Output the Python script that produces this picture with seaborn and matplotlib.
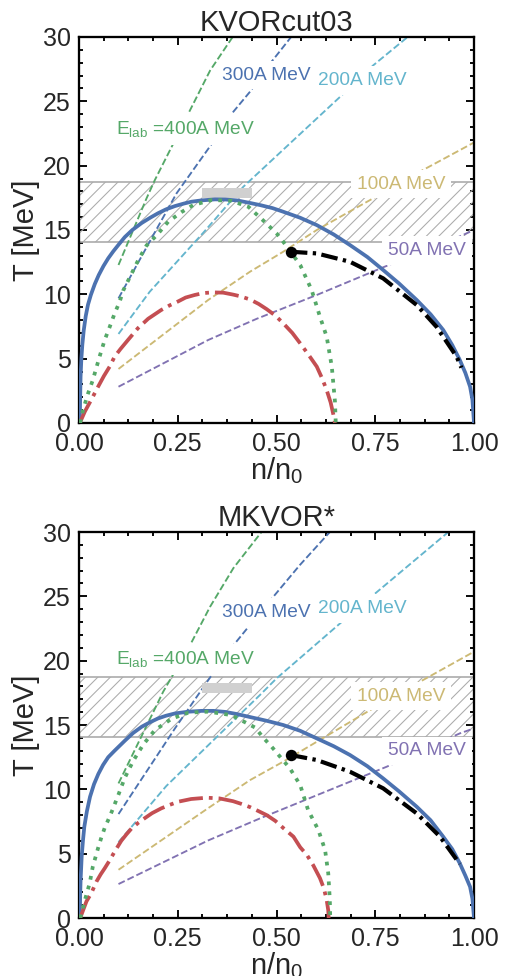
import numpy as np
import pandas as pd
import matplotlib
matplotlib.use("Agg")
import matplotlib.pyplot as plt
import seaborn as sns
from matplotlib.ticker import AutoMinorLocator, FormatStrFormatter

# ---------------- data ----------------
panel_titles = ["KVORcut03", "MKVOR*"]

# solid blue curve
blue_n_top = [0.002, 0.003, 0.004, 0.006, 0.0085, 0.012, 0.017, 0.0228, 0.03, 0.04, 0.05, 0.062, 0.074,
              0.087, 0.1, 0.116, 0.135, 0.159, 0.18, 0.2, 0.22, 0.243, 0.265, 0.285, 0.31, 0.344,
              0.37, 0.40, 0.43, 0.458, 0.49, 0.517, 0.56, 0.602, 0.645, 0.686, 0.73, 0.77, 0.81,
              0.855, 0.89, 0.922, 0.945, 0.964, 0.978, 0.99, 0.996, 1.0]
blue_T_top = [0.0, 2.0, 3.6, 5.0, 6.1, 7.2, 8.3, 9.2, 9.95, 10.8, 11.5, 12.2, 12.8,
              13.35, 13.85, 14.45, 15.0, 15.55, 15.95, 16.3, 16.6, 16.86, 17.05, 17.2, 17.3, 17.38,
              17.37, 17.3, 17.12, 16.94, 16.7, 16.42, 15.95, 15.38, 14.65, 13.83, 12.9, 11.89, 10.85,
              9.56, 8.45, 7.23, 6.05, 4.9, 3.9, 2.82, 1.8, 0.0]
blue_n_bot = [0.002, 0.003, 0.004, 0.0068, 0.01, 0.0135, 0.02, 0.028, 0.038, 0.049, 0.061, 0.074,
              0.09, 0.1, 0.116, 0.137, 0.159, 0.18, 0.2, 0.22, 0.243, 0.275, 0.31, 0.34, 0.37, 0.40,
              0.433, 0.475, 0.517, 0.56, 0.602, 0.645, 0.686, 0.73, 0.77, 0.81, 0.855, 0.89, 0.922,
              0.945, 0.964, 0.978, 0.99, 0.996, 1.0]
blue_T_bot = [0.0, 1.8, 2.9, 4.77, 6.0, 7.1, 8.3, 9.43, 10.4, 11.2, 11.9, 12.5,
              13.0, 13.3, 13.78, 14.38, 14.87, 15.22, 15.51, 15.72, 15.9, 16.03, 16.1, 16.1, 16.02, 15.85,
              15.62, 15.33, 15.0, 14.55, 13.96, 13.35, 12.67, 11.8, 10.85, 9.85, 8.65, 7.6, 6.32,
              5.35, 4.25, 3.3, 2.43, 1.5, 0.0]

# red dash-dot curve
red_n_top = [0.002, 0.015, 0.031, 0.048, 0.063, 0.078, 0.09, 0.105, 0.124, 0.149, 0.175, 0.208, 0.23,
             0.251, 0.27, 0.293, 0.315, 0.34, 0.365, 0.39, 0.408, 0.433, 0.455, 0.475, 0.497, 0.517,
             0.54, 0.56, 0.58, 0.602, 0.615, 0.627, 0.637, 0.644, 0.648]
red_T_top = [0.0, 0.9, 1.8, 2.8, 3.65, 4.4, 5.15, 5.75, 6.45, 7.36, 8.1, 8.78, 9.15,
             9.45, 9.75, 9.95, 10.1, 10.15, 10.13, 9.98, 9.85, 9.6, 9.25, 8.85, 8.35, 7.75,
             7.0, 6.19, 5.35, 4.38, 3.5, 2.56, 1.6, 0.65, 0.0]
red_n_bot = [0.003, 0.019, 0.031, 0.044, 0.055, 0.065, 0.078, 0.09, 0.107, 0.12, 0.133, 0.15, 0.166,
             0.185, 0.208, 0.23, 0.251, 0.284, 0.323, 0.355, 0.39, 0.41, 0.433, 0.455, 0.475, 0.497,
             0.517, 0.543, 0.56, 0.577, 0.593, 0.61, 0.62, 0.627, 0.631, 0.632]
red_T_bot = [0.0, 1.3, 1.92, 2.82, 3.4, 3.86, 4.5, 5.15, 6.0, 6.5, 6.96, 7.4, 7.75,
             8.15, 8.52, 8.8, 9.04, 9.25, 9.35, 9.3, 9.08, 8.88, 8.62, 8.3, 8.0, 7.55,
             7.0, 6.32, 5.5, 4.9, 4.1, 3.1, 2.3, 1.4, 0.6, 0.0]

# green dotted curve
green_n_top = [0.003, 0.01, 0.023, 0.035, 0.052, 0.065, 0.078, 0.09, 0.103, 0.112, 0.133, 0.15, 0.171,
               0.197, 0.226, 0.26, 0.289, 0.336, 0.386, 0.429, 0.467, 0.5, 0.517, 0.56, 0.589, 0.61,
               0.627, 0.64, 0.648, 0.65]
green_T_top = [0.0, 1.0, 2.3, 3.34, 5.15, 6.45, 7.49, 8.5, 9.43, 10.3, 11.6, 12.66, 13.8,
               14.6, 15.65, 16.4, 16.94, 17.33, 17.27, 16.8, 15.72, 14.74, 14.09, 12.28, 10.33, 8.26,
               6.71, 4.38, 1.66, 0.0]
green_n_bot = [0.003, 0.008, 0.014, 0.027, 0.035, 0.048, 0.057, 0.065, 0.078, 0.086, 0.1, 0.116,
               0.137, 0.163, 0.192, 0.235, 0.277, 0.327, 0.386, 0.446, 0.467, 0.488, 0.534, 0.56,
               0.58, 0.606, 0.623, 0.631, 0.635, 0.636]
green_T_bot = [0.0, 0.5, 1.3, 2.7, 4.0, 5.4, 6.3, 7.0, 7.9, 8.5, 9.6, 10.9,
               12.2, 13.5, 14.6, 15.5, 15.96, 16.04, 15.77, 14.8, 14.0, 13.3, 11.63, 10.33,
               8.39, 6.84, 5.28, 3.47, 1.4, 0.0]

# black dash-dot curve and its end point
black_n_top = [0.536, 0.602, 0.686, 0.77, 0.855, 0.905, 0.956, 0.968]
black_T_top = [13.31, 13.18, 12.53, 11.24, 9.17, 7.48, 5.15, 4.3]
black_n_bot = [0.536, 0.602, 0.686, 0.77, 0.855, 0.914, 0.964]
black_T_bot = [12.67, 12.28, 11.37, 10.08, 8.13, 6.32, 4.2]

# collision trajectories (E_lab = 400, 300, 200, 100, 50 A MeV)
traj_labels = ["E$_{lab}$ =400A MeV", "300A MeV", "200A MeV", "100A MeV", "50A MeV"]
e400_n_top = [0.1, 0.171, 0.192, 0.239, 0.277, 0.332, 0.389]
e400_T_top = [12.28, 17.46, 18.88, 21.73, 24.06, 27.4, 30.0]
e300_n_top = [0.1, 0.188, 0.247, 0.34, 0.391, 0.433, 0.488, 0.537]
e300_T_top = [9.69, 14.6, 17.85, 21.86, 24.2, 25.75, 28.1, 30.0]
e200_n_top = [0.1, 0.179, 0.315, 0.416, 0.661, 0.745, 0.832]
e200_T_top = [6.92, 10.2, 14.8, 18.36, 25.35, 27.8, 30.0]
e100_n_top = [0.1, 0.327, 0.433, 0.517, 0.602, 0.737, 0.867, 1.0]
e100_T_top = [4.2, 9.56, 11.76, 13.31, 15.0, 17.33, 19.6, 21.8]
e50_n_top = [0.1, 0.327, 0.45, 0.602, 0.77, 0.964, 1.0]
e50_T_top = [2.82, 6.45, 8.1, 9.95, 12.1, 14.5, 15.0]

e400_n_bot = [0.1, 0.213, 0.235, 0.281, 0.332, 0.391, 0.462]
e400_T_bot = [10.46, 17.58, 18.75, 21.2, 24.2, 27.2, 30.0]
e300_n_bot = [0.1, 0.243, 0.336, 0.391, 0.429, 0.492, 0.559, 0.635]
e300_T_bot = [8.08, 14.74, 18.88, 21.2, 22.63, 24.97, 27.43, 30.0]
e200_n_bot = [0.1, 0.221, 0.458, 0.5, 0.661, 0.745, 0.935]
e200_T_bot = [5.9, 10.26, 17.33, 18.62, 22.9, 25.1, 30.0]
e100_n_bot = [0.1, 0.327, 0.433, 0.517, 0.602, 0.737, 0.863, 1.0]
e100_T_bot = [3.75, 8.54, 10.72, 12.15, 13.7, 16.16, 18.36, 20.7]
e50_n_bot = [0.1, 0.327, 0.458, 0.779, 0.964, 1.0]
e50_T_bot = [2.64, 6.03, 7.74, 11.76, 14.35, 14.74]

# hatched band (T range) and grey box (n range, T range)
band_T = [14.1, 18.7]
box_n = [0.312, 0.438]
box_T = [17.5, 18.3]

x_ticks = [0.0, 0.25, 0.5, 0.75, 1.0]
y_ticks = [0, 5, 10, 15, 20, 25, 30]

# ---------------- style ----------------
sns.set_theme(style="ticks", palette="deep")
plt.rcParams["font.family"] = ["Liberation Sans", "DejaVu Sans"]
plt.rcParams["mathtext.default"] = "regular"
plt.rcParams["hatch.linewidth"] = 0.5
plt.rcParams["hatch.color"] = "#ababab"

c_blue = "#4C72B0"
c_green = "#55A868"
c_red = "#C44E52"
c_purple = "#8172B2"
c_yellow = "#CCB974"
c_cyan = "#64B5CD"
traj_colors = [c_green, c_blue, c_cyan, c_yellow, c_purple]

fig = plt.figure(figsize=(508 / 150, 976 / 150), dpi=150)
ax_top = fig.add_axes([0.1555, 0.5666, 0.7776, 0.3955])
ax_bot = fig.add_axes([0.1555, 0.0594, 0.7776, 0.3955])

panels = [
    dict(ax=ax_top, title=panel_titles[0],
         blue=(blue_n_top, blue_T_top), red=(red_n_top, red_T_top),
         green=(green_n_top, green_T_top), black=(black_n_top, black_T_top),
         trajs=[(e400_n_top, e400_T_top), (e300_n_top, e300_T_top), (e200_n_top, e200_T_top),
                (e100_n_top, e100_T_top), (e50_n_top, e50_T_top)],
         label_pos=[(0.27, 22.85), (0.475, 27.04), (0.716, 26.6), (0.815, 18.57), (0.881, 13.39)]),
    dict(ax=ax_bot, title=panel_titles[1],
         blue=(blue_n_bot, blue_T_bot), red=(red_n_bot, red_T_bot),
         green=(green_n_bot, green_T_bot), black=(black_n_bot, black_T_bot),
         trajs=[(e400_n_bot, e400_T_bot), (e300_n_bot, e300_T_bot), (e200_n_bot, e200_T_bot),
                (e100_n_bot, e100_T_bot), (e50_n_bot, e50_T_bot)],
         label_pos=[(0.27, 20.1), (0.475, 23.75), (0.716, 24.06), (0.815, 17.25), (0.881, 13.0)]),
]


def draw(ax, n, T, **kw):
    df = pd.DataFrame({"n": n, "T": T})
    sns.lineplot(data=df, x="n", y="T", ax=ax, sort=False, estimator=None,
                 legend=False, **kw)


for p in panels:
    ax = p["ax"]
    # hatched band
    ax.axhspan(band_T[0], band_T[1], facecolor="none", edgecolor="#ababab",
               hatch="////", lw=0.8, zorder=1)
    # trajectories
    for (n, T), c in zip(p["trajs"], traj_colors):
        draw(ax, n, T, color=c, lw=0.9, linestyle="--", zorder=2)
    # grey box
    ax.fill_between(box_n, box_T[0], box_T[1], color="#d0d0d0", lw=0, zorder=3)
    # labels
    for lab, (x, y), c in zip(traj_labels, p["label_pos"], traj_colors):
        ax.text(x, y, lab, color=c, fontsize=9.2, ha="center", va="center", zorder=4,
                bbox=dict(boxstyle="square,pad=0.3", fc="white", ec="none"))
    # thick curves
    draw(ax, *p["blue"], color=c_blue, lw=1.8, zorder=5)
    draw(ax, *p["red"], color=c_red, lw=1.8, linestyle="-.", zorder=5)
    draw(ax, *p["green"], color=c_green, lw=1.8, linestyle=":", zorder=5)
    draw(ax, *p["black"], color="black", lw=2.0, linestyle=(0, (4, 1.3, 0.8, 1.3)), zorder=6)
    bn, bT = p["black"]
    sns.scatterplot(x=[bn[0]], y=[bT[0]], ax=ax, color="black", s=30, zorder=7,
                    edgecolor="black", linewidth=0, legend=False)

    ax.set_xlim(0, 1)
    ax.set_ylim(0, 30)
    ax.set_xticks(x_ticks)
    ax.set_yticks(y_ticks)
    ax.xaxis.set_major_formatter(FormatStrFormatter("%.2f"))
    ax.xaxis.set_minor_locator(AutoMinorLocator(4))
    ax.yaxis.set_minor_locator(AutoMinorLocator(5))
    ax.tick_params(which="both", direction="in", top=True, right=True, color="black", width=0.9)
    ax.tick_params(which="major", length=4, labelsize=12, pad=4)
    ax.tick_params(which="minor", length=2)
    ax.tick_params(axis="x", which="major", pad=4.5)
    for s in ax.spines.values():
        s.set_visible(True)
        s.set_color("black")
        s.set_linewidth(1.1)
    ax.set_xlabel("n/n$_0$", fontsize=14, labelpad=-0.5)
    ax.set_ylabel("T [MeV]", fontsize=14, labelpad=1.5)
    ax.set_title(p["title"], fontsize=14, pad=2.5)
    ax.set_facecolor("white")

fig.savefig("out.png", dpi=150, facecolor="white")
